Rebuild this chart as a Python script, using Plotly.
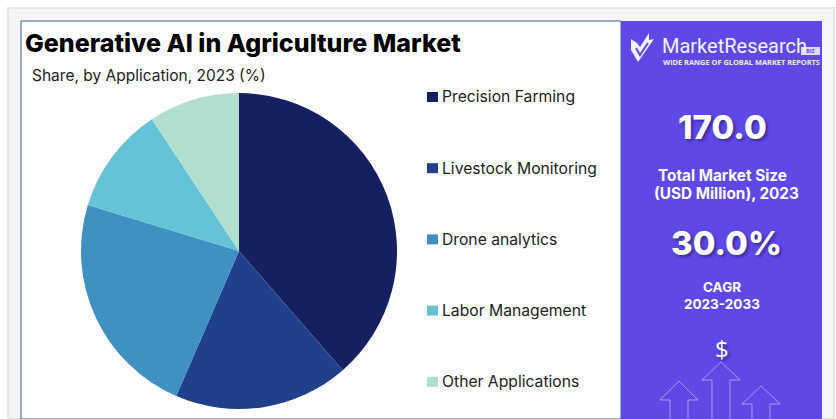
import plotly.graph_objects as go

W, H = 836, 419

# Market share by application, 2023 (%)
applications = ["Precision Farming", "Livestock Monitoring", "Drone analytics",
                "Labor Management", "Other Applications"]
shares = [38.6, 17.9, 23.2, 11.0, 9.3]
slice_colors = ["#14205F", "#21408C", "#3F91C1", "#66C2D6", "#B2DFCD"]

title_text = "Generative AI in Agriculture Market"
subtitle_text = "Share, by Application, 2023 (%)"
market_size = "170.0"
market_size_lines = ["Total Market Size", "(USD Million), 2023"]
cagr = "30.0%"
cagr_lines = ["CAGR", "2023-2033"]

PURPLE = "#5F48E6"
BODY_FONT = "Inter"
HEAD_FONT = "Inter"
LOGO_FONT = "Roboto"
SHADOW = "2px 2px 3px rgba(30,20,90,0.55)"


def px(x):
    return x / W


def py(y):
    return 1 - y / H


def rect(x0, y0, x1, y1, fill, line=None, width=1):
    return dict(type="rect", xref="paper", yref="paper",
                x0=px(x0), x1=px(x1), y0=py(y0), y1=py(y1),
                fillcolor=fill, line=dict(color=line or fill, width=width if line else 0),
                layer="below")


def outline(points, fill=None, color="rgba(255,255,255,0.45)", width=1):
    path = "M " + " L ".join(f"{px(x):.5f},{py(y):.5f}" for x, y in points)
    if fill:
        path += " Z"
    return dict(type="path", xref="paper", yref="paper", path=path,
                fillcolor=fill or "rgba(0,0,0,0)",
                line=dict(color=color, width=width if not fill else 0), layer="above")


def text(x, y, s, size, color="#111111", family=BODY_FONT, anchor="center",
         weight=400, shadow=None):
    font = dict(size=size, color=color, family=family, weight=weight)
    if shadow:
        font["shadow"] = shadow
    return dict(xref="paper", yref="paper", x=px(x), y=py(y), text=s,
                showarrow=False, xanchor=anchor, yanchor="middle", align="center",
                borderpad=0, borderwidth=0, font=font)


def up_arrow(cx, top, half_head, head_h, half_stem):
    return outline([(cx - half_stem, 419), (cx - half_stem, top + head_h),
                    (cx - half_head, top + head_h), (cx, top),
                    (cx + half_head, top + head_h), (cx + half_stem, top + head_h),
                    (cx + half_stem, 419)])


shapes = [
    rect(8, 8, 834, 419, "#F5F5F5", "#E6E6E6", 2),
    rect(21, 21, 621, 419, "#FFFFFF", "#3D5A98", 1),
    rect(621, 21, 822, 419, PURPLE),
    # Logo check mark
    outline([(631, 39), (637, 43), (640, 47), (649, 33), (649, 40), (654, 39),
             (638, 62), (631, 50)], fill="#F2F0FD"),
    outline([(636, 48), (640, 55), (648, 43)], color=PURPLE, width=2),
    rect(801, 47, 820, 55, "rgba(255,255,255,0.8)"),
    # Rising arrows under the dollar sign
    up_arrow(679, 381, 19, 19, 9),
    up_arrow(721, 362, 19, 18, 9),
    up_arrow(761, 386, 19, 18, 9),
]

annotations = [
    text(25, 43, title_text, 25, "#000000", HEAD_FONT, "left", 800),
    text(32, 75, subtitle_text, 15.5, "#222222", BODY_FONT, "left"),
    text(662, 46, "MarketResearch", 20, "#F4F2FE", LOGO_FONT, "left"),
    text(810.5, 51, "BIZ", 5.5, PURPLE, "Open Sans", "center", 700),
    text(741, 62.5, "WIDE RANGE OF GLOBAL MARKET REPORTS", 7.4, "#EDEAFD", "Open Sans", "center", 700),
    text(722, 127, market_size, 33, "#FFFFFF", HEAD_FONT, "center", 800, SHADOW),
    text(722, 175, market_size_lines[0], 15.3, "#FFFFFF", HEAD_FONT, "center", 700),
    text(726, 193, market_size_lines[1], 15.3, "#FFFFFF", HEAD_FONT, "center", 700),
    text(726, 243, cagr, 33, "#FFFFFF", HEAD_FONT, "center", 800, SHADOW),
    text(722, 287, cagr_lines[0], 13.5, "#FFFFFF", HEAD_FONT, "center", 700),
    text(722, 304, cagr_lines[1], 13.5, "#FFFFFF", HEAD_FONT, "center", 700),
    text(722, 348, "$", 24, "#FFFFFF", "Open Sans", "center", 400, SHADOW),
]

# Legend entries sit in an evenly spaced column beside the pie
legend_top, legend_step = 97, 71.2
for i, (name, color) in enumerate(zip(applications, slice_colors)):
    y = legend_top + i * legend_step
    shapes.append(rect(427, y - 5, 438, y + 5, color))
    annotations.append(text(442, y - 0.2, name, 15.7, "#222222", BODY_FONT, "left"))

pie = go.Pie(
    labels=applications,
    values=shares,
    sort=False,
    direction="clockwise",
    rotation=0,
    marker=dict(colors=slice_colors, line=dict(width=0)),
    textinfo="none",
    hoverinfo="label+percent",
    showlegend=False,
    domain=dict(x=[px(239 - 158), px(239 + 158)], y=[py(251 + 158), py(251 - 158)]),
)

fig = go.Figure(pie)
fig.update_layout(
    width=W, height=H,
    margin=dict(l=0, r=0, t=0, b=0),
    paper_bgcolor="#FFFFFF",
    shapes=shapes,
    annotations=annotations,
)
fig.write_html("out.html", config=dict(displayModeBar=False))
